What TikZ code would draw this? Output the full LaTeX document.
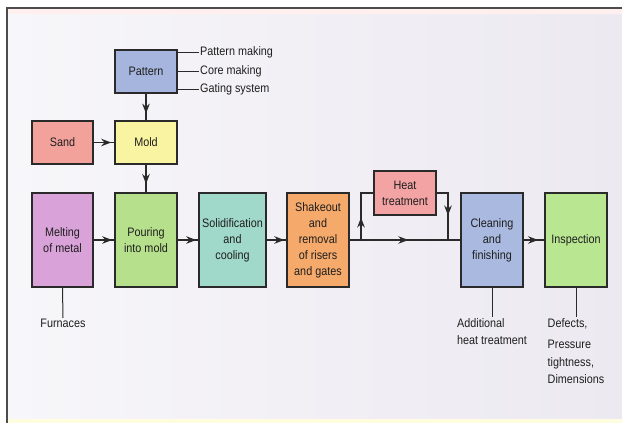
\documentclass[tikz,border=0pt]{standalone}
\usepackage{fontspec}
\setmainfont{Liberation Sans}[FakeStretch=0.88]
\usetikzlibrary{arrows.meta,decorations.markings}
\definecolor{cPattern}{HTML}{A6B5DD}
\definecolor{cSand}{HTML}{F2A19B}
\definecolor{cMold}{HTML}{F9F4A2}
\definecolor{cMelt}{HTML}{D9A2D9}
\definecolor{cPour}{HTML}{B6E08C}
\definecolor{cSolid}{HTML}{A0D9C9}
\definecolor{cShake}{HTML}{F5A96A}
\definecolor{cHeat}{HTML}{F3A3A3}
\definecolor{cClean}{HTML}{A9B9E0}
\definecolor{cInsp}{HTML}{B9E691}
\definecolor{cLine}{HTML}{2A2A2A}
\definecolor{cText}{HTML}{1E1E1E}
\definecolor{cBgL}{HTML}{F7F6F9}
\definecolor{cBgR}{HTML}{ECE9F1}
\tikzset{
  box/.style={draw=cLine, line width=1.5pt, align=center, inner sep=1pt,
    minimum width=#1, text=cText, font=\fontsize{12.3}{16}\selectfont},
  box/.default=62pt,
  tall/.style={minimum height=94pt},
  short/.style={minimum height=43pt},
  lbl/.style={text=cText, font=\fontsize{12.3}{17.5}\selectfont, inner sep=1pt},
  conn/.style={draw=cLine, line width=1.5pt},
  thin/.style={draw=cLine, line width=1pt},
  midarrow/.style={postaction={decorate}, decoration={markings,
    mark=at position #1 with {\arrow{Stealth[length=10pt,width=7.5pt]}}}}
}
\begin{document}
\begin{tikzpicture}[x=1pt,y=-1pt]
\useasboundingbox (0,0) rectangle (622,423);
% background
\fill[white] (0,0) rectangle (622,423);
\shade[left color=cBgL, right color=cBgR] (7,8) rectangle (622,420);
\fill[pink!25] (8,9) rectangle (622,14);
\fill[yellow!12] (8,419) rectangle (622,423);
\draw[line width=2pt, draw=black!70] (7,423) -- (7,8) -- (622,8);

% boxes
\node[box, short, fill=cPattern] (pattern) at (146,71.5) {Pattern};
\node[box, short, fill=cMold] (mold) at (146,142.5) {Mold};
\node[box=61pt, short, fill=cSand] (sand) at (62.5,142.5) {Sand};
\node[box=61pt, tall, fill=cMelt] (melt) at (62.5,240) {Melting\\of metal};
\node[box, tall, fill=cPour] (pour) at (146,240) {Pouring\\into mold};
\node[box=67pt, tall, fill=cSolid] (solid) at (232.5,240) {Solidification\\and\\cooling};
\node[box, tall, fill=cShake] (shake) at (318,240) {Shakeout\\and\\removal\\of risers\\and gates};
\node[box, minimum height=44pt, fill=cHeat] (heat) at (405,193) {Heat\\treatment};
\node[box, tall, fill=cClean] (clean) at (492,240) {Cleaning\\and\\finishing};
\node[box, tall, fill=cInsp] (insp) at (576,240) {Inspection};

% pattern labels
\node[lbl, anchor=west] (pm) at (199,52) {Pattern making};
\node[lbl, anchor=west] (cm) at (199,71) {Core making};
\node[lbl, anchor=west] (gs) at (199,89.5) {Gating system};
\draw[thin] (pattern.east |- pm.west) -- (pm.west);
\draw[thin] (pattern.east |- cm.west) -- (cm.west);
\draw[thin] (pattern.east |- gs.west) -- (gs.west);

% bottom labels
\node[lbl, anchor=north] (furn) at (63,318) {Furnaces};
\draw[thin] (melt.south) -- (furn.north);
\node[lbl, anchor=north, align=left] (addl) at (492,317) {Additional\\heat treatment};
\draw[thin] (clean.south) -- (addl.north);
\node[lbl, anchor=north, align=left] (defs) at (576,317) {Defects,\\[4pt]Pressure\\tightness,\\Dimensions};
\draw[thin] (insp.south) -- (defs.north);

% flow connectors
\draw[conn, midarrow=0.75] (pattern.south) -- (mold.north);
\draw[conn, midarrow=0.85] (sand.east) -- (mold.west);
\draw[conn, midarrow=0.7] (mold.south) -- (pour.north);
\draw[conn, midarrow=0.9] (melt.east) -- (pour.west);
\draw[conn, midarrow=0.9] (pour.east) -- (solid.west);
\draw[conn, midarrow=0.9] (solid.east) -- (shake.west);
\coordinate (br) at (361,240);
\coordinate (jn) at (448,240);
\draw[conn, midarrow=0.53] (shake.east) -- (clean.west);
\draw[conn, midarrow=0.38] (br) |- (heat.west);
\draw[conn, midarrow=0.58] (heat.east) -| (jn);
\draw[conn, midarrow=0.7] (clean.east) -- (insp.west);
\end{tikzpicture}
\end{document}
